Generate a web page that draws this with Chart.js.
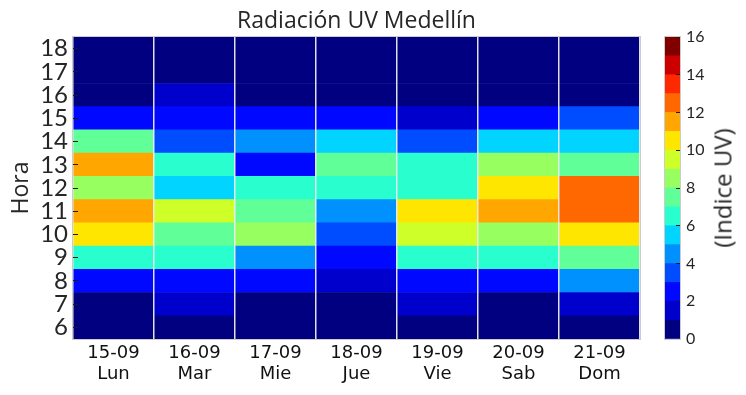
<!DOCTYPE html>
<html>
<head>
<meta charset="utf-8">
<script src="https://cdn.jsdelivr.net/npm/chart.js@4.4.1/dist/chart.umd.min.js"></script>
<style>
  html, body { margin: 0; padding: 0; background: #fff; }
  #wrap { position: relative; width: 746px; height: 395px; overflow: hidden; }
  #main { position: absolute; left: 0; top: 0; }
  #cbar { position: absolute; left: 650px; top: 0; }
  #cblabel {
    position: absolute; left: 722px; top: 188px;
    transform: translate(-50%, -50%) rotate(-90deg);
    font-family: 'Open Sans', sans-serif; font-size: 24px; color: #262626; white-space: nowrap;
  }
</style>
</head>
<body>
<div id="wrap">
  <canvas id="main" width="650" height="395"></canvas>
  <canvas id="cbar" width="96" height="395"></canvas>
  <div id="cblabel">(Indice UV)</div>
</div>
<script>
// ---- data ----
const days = ["15-09", "16-09", "17-09", "18-09", "19-09", "20-09", "21-09"];
const weekdays = ["Lun", "Mar", "Mie", "Jue", "Vie", "Sab", "Dom"];
const hours = [6, 7, 8, 9, 10, 11, 12, 13, 14, 15, 16, 17, 18];
// UV index per day, for hours 6..18
const uvLun = [0, 0, 2, 6, 10, 11, 8, 11, 7, 2, 0, 0, 0];
const uvMar = [0, 1, 2, 6, 7, 9, 5, 6, 3, 2, 1, 0, 0];
const uvMie = [0, 0, 2, 4, 8, 7, 6, 2, 4, 2, 0, 0, 0];
const uvJue = [0, 0, 1, 2, 3, 4, 6, 7, 5, 2, 0, 0, 0];
const uvVie = [0, 1, 2, 6, 9, 10, 6, 6, 3, 1, 0, 0, 0];
const uvSab = [0, 0, 2, 6, 8, 11, 10, 8, 5, 2, 0, 0, 0];
const uvDom = [0, 1, 4, 7, 10, 12, 12, 7, 5, 3, 0, 0, 0];
const cbLevels = [0, 1, 2, 3, 4, 5, 6, 7, 8, 9, 10, 11, 12, 13, 14, 15, 16];
const cbTicks = [0, 2, 4, 6, 8, 10, 12, 14, 16];

// ---- style ----
const jet16 = ["#000080", "#0000cd", "#0008ff", "#004cff", "#0091ff", "#00d4ff", "#29ffce", "#60ff97",
               "#97ff60", "#ceff29", "#ffe600", "#ffa700", "#ff6800", "#ff2900", "#cd0000", "#800000"];
const FONT = "Lato, 'Open Sans', sans-serif";
const FONT2 = "'Open Sans', Lato, sans-serif";
const FONTX = "'DejaVu Sans', sans-serif";
const TXT = "#262626";
const TICKC = "#1a1a1a";
const colorFor = v => jet16[Math.max(0, Math.min(15, Math.floor(v)))];

const uvByDay = [uvLun, uvMar, uvMie, uvJue, uvVie, uvSab, uvDom];

const framePlugin = {
  id: 'frame',
  afterDraw(chart) {
    const a = chart.chartArea, ctx = chart.ctx;
    ctx.save();
    ctx.strokeStyle = '#cccccc';
    ctx.lineWidth = 1;
    ctx.strokeRect(Math.round(a.left) - 0.5, Math.round(a.top) - 0.5,
                   Math.round(a.right - a.left) + 1, Math.round(a.bottom - a.top) + 1);
    ctx.restore();
  }
};

const mainDatasets = hours.map((h, hi) => ({
  label: String(h),
  data: uvByDay.map(() => [h - 0.5, h + 0.5]),
  backgroundColor: uvByDay.map(arr => colorFor(arr[hi])),
  borderWidth: 0,
  grouped: false,
  categoryPercentage: 1.0,
  barPercentage: 1.0
}));

new Chart(document.getElementById('main'), {
  type: 'bar',
  data: { labels: days.map((d, i) => [d, weekdays[i]]), datasets: mainDatasets },
  options: {
    responsive: false,
    animation: false,
    layout: { padding: { left: 0, right: 10, top: 0, bottom: 0 } },
    plugins: {
      legend: { display: false },
      tooltip: { enabled: false },
      title: {
        display: true, text: 'Radiación UV Medellín', fullSize: false,
        color: TXT, font: { family: FONT2, size: 23, weight: 'normal', lineHeight: 1.2 },
        padding: { top: 8, bottom: 1.4 }
      }
    },
    scales: {
      x: {
        type: 'category',
        offset: true,
        grid: { display: true, drawOnChartArea: false, drawTicks: true, tickLength: -5, tickColor: TICKC, tickWidth: 1, z: 1 },
        border: { display: false },
        ticks: { color: '#111', font: { family: FONTX, size: 18, lineHeight: 1.167 }, padding: 9, maxRotation: 0, autoSkip: false },
        afterFit(s) { s.height = 56; }
      },
      xsep: {
        type: 'category',
        position: 'bottom',
        offset: true,
        grid: { display: true, offset: true, z: 1, color: 'rgba(235,235,235,0.95)', lineWidth: 1.5, drawTicks: false },
        border: { display: false },
        ticks: { display: false },
        afterFit(s) { s.height = 0; }
      },
      y: {
        type: 'linear',
        min: 5.5, max: 18.5,
        grid: { display: true, drawOnChartArea: false, drawTicks: true, tickLength: -5, tickColor: TICKC, tickWidth: 1, z: 1 },
        border: { display: false },
        afterBuildTicks(s) { s.ticks = hours.map(v => ({ value: v })); },
        ticks: { color: TXT, font: { family: FONT, size: 24, lineHeight: 1 }, padding: 10, autoSkip: false },
        title: { display: true, text: 'Hora', color: TXT, font: { family: FONT2, size: 23, lineHeight: 1.2 }, padding: { top: 8, bottom: 0 } },
        afterFit(s) { s.width = 73; }
      }
    }
  },
  plugins: [framePlugin]
});

const cbDatasets = cbLevels.slice(0, -1).map((lv, i) => ({
  label: String(lv),
  data: [[lv, cbLevels[i + 1]]],
  backgroundColor: jet16[i],
  borderWidth: 0,
  grouped: false,
  categoryPercentage: 1.0,
  barPercentage: 1.0
}));

new Chart(document.getElementById('cbar'), {
  type: 'bar',
  data: { labels: [''], datasets: cbDatasets },
  options: {
    responsive: false,
    animation: false,
    layout: { padding: { left: 15, right: 0, top: 37, bottom: 56 } },
    plugins: { legend: { display: false }, tooltip: { enabled: false }, title: { display: false } },
    scales: {
      x: { display: false },
      y: {
        position: 'right',
        min: 0, max: 16,
        grid: { display: true, drawOnChartArea: false, drawTicks: true, tickLength: -4, tickColor: TICKC, tickWidth: 1, z: 1 },
        border: { display: false },
        afterBuildTicks(s) { s.ticks = cbTicks.map(v => ({ value: v })); },
        ticks: { color: TXT, font: { family: FONT, size: 16, lineHeight: 1 }, padding: 10, autoSkip: false },
        afterFit(s) { s.width = 66; }
      }
    }
  },
  plugins: [framePlugin]
});
</script>
</body>
</html>
